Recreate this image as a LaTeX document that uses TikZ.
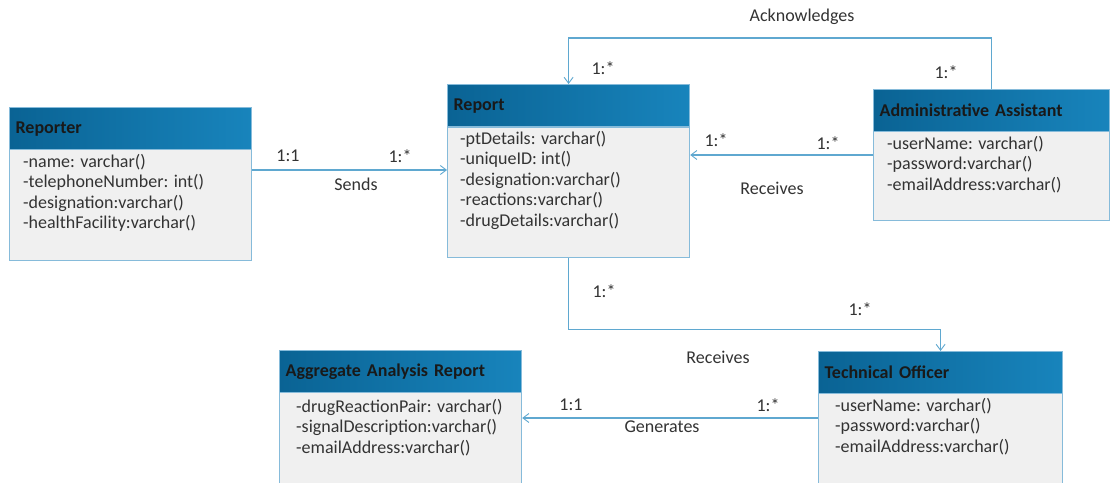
\documentclass[tikz,border=0pt]{standalone}
\usepackage{fontspec}
\setmainfont{Carlito}
\usetikzlibrary{arrows.meta}

\definecolor{hdrdark}{HTML}{0A6394}
\definecolor{hdrlight}{HTML}{1884BC}
\definecolor{boxline}{HTML}{86BBDA}
\definecolor{bodyfill}{HTML}{F0F0F0}
\definecolor{wire}{HTML}{5FA8D0}
\definecolor{ink}{HTML}{333333}

\tikzset{
  hdr/.style={draw=boxline, line width=1.2pt, left color=hdrdark, right color=hdrlight,
    anchor=north west, inner xsep=6pt, inner ysep=0pt, minimum height=42pt,
    text=black!90, align=left, font=\fontsize{18}{20}\selectfont\bfseries},
  bodybox/.style={draw=boxline, line width=1.2pt, fill=bodyfill, anchor=north west,
    inner sep=0pt},
  attrs/.style={anchor=north west, inner sep=0pt, align=left, text=ink,
    font=\fontsize{18}{20.5}\selectfont},
  lbl/.style={inner sep=1pt, text=ink, font=\fontsize{18}{20}\selectfont},
  wire/.style={draw=wire, line width=1.1pt, -{Straight Barb[length=6pt,width=9pt,line width=0.9pt]}},
}

\begin{document}
\begin{tikzpicture}[x=1pt, y=-1pt]
\useasboundingbox (0,0) rectangle (1110,482);
\clip (0,0) rectangle (1110,482);
\fill[white] (0,0) rectangle (1110,482);

% Reporter class
\node[bodybox, minimum width=242pt, minimum height=111pt] (rtrB) at (9,149) {};
\node[hdr, text width=230pt] (rtrH) at (9,107) {Reporter};
\node[attrs] (rtrA) at (23,154) {-name: varchar()\\-telephoneNumber: int()\\-designation:varchar()\\-healthFacility:varchar()};

% Report class
\node[bodybox, minimum width=242pt, minimum height=130pt] (rptB) at (447,127) {};
\node[hdr, text width=230pt] (rptH) at (447,84) {Report};
\node[attrs] (rptA) at (460,131) {-ptDetails: varchar()\\-uniqueID: int()\\-designation:varchar()\\-reactions:varchar()\\-drugDetails:varchar()};

% Administrative Assistant class
\node[bodybox, minimum width=236pt, minimum height=90pt] (admB) at (873,130) {};
\node[hdr, text width=224pt] (admH) at (873,89) {Administrative Assistant};
\node[attrs] (admA) at (887,136) {-userName: varchar()\\-password:varchar()\\-emailAddress:varchar()};

% Aggregate Analysis Report class
\node[bodybox, minimum width=242pt, minimum height=110pt] (aggB) at (279,392) {};
\node[hdr, text width=230pt] (aggH) at (279,350) {Aggregate Analysis Report};
\node[attrs] (aggA) at (296,399) {-drugReactionPair: varchar()\\-signalDescription:varchar()\\-emailAddress:varchar()};

% Technical Officer class
\node[bodybox, minimum width=244pt, minimum height=110pt] (tecB) at (818,393) {};
\node[hdr, text width=232pt] (tecH) at (818,351) {Technical Officer};
\node[attrs] (tecA) at (835,398) {-userName: varchar()\\-password:varchar()\\-emailAddress:varchar()};

% Associations
\draw[wire] ([yshift=-21pt]rtrB.north east) -- ([yshift=-21pt]rtrB.north east -| rptB.west);
\draw[wire] (admH.north) -- ++(0,-51) -| (rptH.north);
\draw[wire] ([yshift=-25pt]admB.north west) -- ([yshift=-25pt]admB.north west -| rptB.east);
\draw[wire] (rptB.south) -- ++(0,71) -| (tecH.north);
\draw[wire] ([yshift=-25pt]tecB.north west) -- ([yshift=-25pt]tecB.north west -| aggB.east);

% Multiplicities and association names
\node[lbl] (l1) at (288,156) {1:1};
\node[lbl] (l2) at (400,156) {1:*};
\node[lbl] (l3) at (356,184) {Sends};
\node[lbl] (l4) at (802,17) {Acknowledges};
\node[lbl] (l5) at (603,68) {1:*};
\node[lbl] (l6) at (946,72) {1:*};
\node[lbl] (l7) at (716,140) {1:*};
\node[lbl] (l8) at (828,143) {1:*};
\node[lbl] (l9) at (772,188) {Receives};
\node[lbl] (l10) at (604,291) {1:*};
\node[lbl] (l11) at (860,309) {1:*};
\node[lbl] (l12) at (718,357) {Receives};
\node[lbl] (l13) at (571,405) {1:1};
\node[lbl] (l14) at (768,405) {1:*};
\node[lbl] (l15) at (662,427) {Generates};
\end{tikzpicture}
\end{document}
